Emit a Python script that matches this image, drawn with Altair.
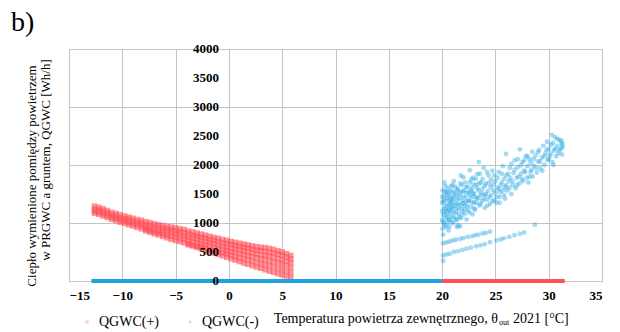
import altair as alt
import pandas as pd

SERIF = "Liberation Serif"

# ---- tick values ----
x_ticks = [-15, -10, -5, 0, 5, 10, 15, 20, 25, 30, 35]
y_ticks = [0, 500, 1000, 1500, 2000, 2500, 3000, 3500, 4000]

# ---- QGWC(+) : heating-season band (temperature column -> heat values) ----
red_temp = [-12.6, -12.2, -11.8, -11.4, -11.0, -10.6, -10.2, -9.8, -9.4, -9.0, -8.6, -8.2,
            -7.8, -7.4, -7.0, -6.6, -6.2, -5.8, -5.4, -5.0, -4.6, -4.2, -3.8, -3.4, -3.0,
            -2.6, -2.2, -1.8, -1.4, -1.0, -0.6, -0.2, 0.2, 0.6, 1.0, 1.4, 1.8, 2.2, 2.6,
            3.0, 3.4, 3.8, 4.2, 4.6, 5.0, 5.4, 5.8]
red_q = [
    [1290, 1240, 1200, 1170], [1270, 1225, 1185, 1150], [1245, 1200, 1160, 1120],
    [1215, 1175, 1135, 1095], [1180, 1140, 1100, 1065], [1165, 1120, 1080, 1045],
    [1140, 1095, 1055, 1015], [1120, 1075, 1030, 995], [1100, 1060, 1010, 970],
    [1080, 1035, 990, 950], [1060, 1015, 970, 925], [1045, 995, 950, 900],
    [1020, 975, 930, 890, 865], [1005, 960, 910, 870, 840], [985, 940, 890, 850, 815],
    [970, 925, 875, 830, 795], [955, 910, 860, 810, 770], [940, 895, 845, 795, 745],
    [930, 880, 830, 775, 720], [915, 865, 810, 755, 700], [900, 850, 795, 740, 680],
    [885, 830, 775, 720, 660], [860, 810, 755, 700, 640, 625], [845, 790, 735, 680, 620, 605],
    [825, 770, 715, 660, 600, 580], [805, 750, 700, 640, 585, 555], [790, 735, 680, 620, 565, 530],
    [770, 715, 660, 600, 545, 505], [750, 700, 640, 580, 525, 485], [735, 680, 620, 560, 505, 460],
    [715, 660, 600, 545, 485, 435], [700, 645, 585, 525, 465, 410], [680, 625, 565, 505, 445, 385],
    [665, 610, 550, 490, 425, 360], [650, 595, 535, 470, 405, 335], [635, 580, 520, 455, 385, 310],
    [620, 565, 500, 435, 365, 290], [605, 550, 485, 420, 345, 265], [590, 530, 465, 400, 320, 240],
    [580, 520, 450, 380, 300, 220], [575, 510, 440, 365, 280, 195], [560, 495, 425, 345, 260, 170],
    [545, 480, 405, 330, 240, 150], [520, 460, 385, 310, 215, 125], [500, 440, 365, 290, 195, 105],
    [470, 410, 340, 265, 170, 85], [440, 380, 310, 230, 145, 60],
]

# ---- QGWC(-) : cooling-season cloud (temperature, heat) ----
blue_cloud = [
    (20.05, 900), (20.1, 1020), (20.1, 1130), (20.15, 1250), (20.1, 1380), (20.2, 1480),
    (20.05, 1560), (20.3, 1640), (20.25, 960), (20.35, 1080), (20.4, 1200), (20.3, 1320),
    (20.45, 1430), (20.4, 1530), (20.5, 1010), (20.55, 1150), (20.5, 1290), (20.6, 1380),
    (20.55, 1600), (20.2, 1700),
    (20.7, 940), (20.7, 1060), (20.75, 1230), (20.8, 1340), (20.85, 1470), (20.8, 1560),
    (20.9, 1110), (20.95, 1280), (21.0, 1420), (21.0, 1650), (21.05, 1000), (21.1, 1180),
    (21.15, 1350), (21.2, 1520), (21.1, 1720),
    (21.3, 1070), (21.35, 1250), (21.4, 1400), (21.45, 1590), (21.5, 960), (21.55, 1150),
    (21.6, 1320), (21.65, 1480), (21.7, 1680), (21.8, 1090), (21.85, 1240), (21.9, 1380),
    (21.95, 1540), (22.0, 1790), (21.75, 1820),
    (22.1, 1150), (22.15, 1300), (22.2, 1450), (22.25, 1620), (22.3, 1060), (22.4, 1220),
    (22.45, 1380), (22.5, 1530), (22.6, 1700), (22.6, 1910), (22.7, 1280), (22.75, 1440),
    (22.8, 1600), (22.85, 1150), (22.9, 1780), (23.0, 1350), (23.0, 1500),
    (23.1, 1230), (23.2, 1660), (23.25, 1420), (23.3, 1840), (23.4, 1560), (23.45, 2050),
    (23.5, 1300), (23.6, 1480), (23.65, 1700), (23.75, 1380), (23.8, 1590), (23.9, 1950),
    (24.0, 1260), (24.0, 1480),
    (24.1, 1680), (24.2, 1400), (24.3, 1550), (24.35, 1820), (24.5, 1330), (24.55, 1620),
    (24.6, 1480), (24.7, 1900), (24.8, 1560), (24.9, 1390), (25.0, 1720),
    (25.1, 1450), (25.2, 1610), (25.3, 1880), (25.4, 1350), (25.45, 1530), (25.6, 1700),
    (25.7, 1980), (25.8, 1480), (25.9, 1620), (26.0, 1820), (26.0, 2190),
    (26.1, 1560), (26.25, 1720), (26.35, 1950), (26.5, 1500), (26.6, 1650), (26.7, 1860),
    (26.8, 2080), (26.9, 1600), (27.0, 1780),
    (27.1, 1960), (27.25, 1680), (27.3, 2270), (27.4, 1850), (27.55, 2050), (27.6, 1720),
    (27.7, 1900), (27.85, 2150), (27.95, 1780), (28.0, 1980),
    (28.1, 1700), (28.2, 2100), (28.3, 1880), (28.45, 2230), (28.5, 1800), (28.6, 1990),
    (28.75, 2160), (28.9, 1870), (29.0, 2060),
    (29.1, 2260), (29.2, 1940), (29.35, 2130), (29.5, 2330), (29.6, 2000), (29.7, 2200),
    (29.85, 2400), (29.9, 2080), (30.0, 2280),
    (30.1, 2150), (30.2, 2350), (30.3, 2520), (30.35, 2050), (30.5, 2250), (30.6, 2480),
    (30.7, 2150), (30.8, 2330), (30.9, 2200), (31.0, 2430), (31.1, 2280), (31.2, 2370),
    (31.25, 2180), (31.3, 2300), (30.45, 2000),
]
blue_cloud_2 = [
    (20.0, 1050), (20.0, 1200), (20.0, 1350), (20.0, 1450), (20.15, 990), (20.2, 1170),
    (20.25, 1400), (20.3, 1550), (20.35, 1240), (20.4, 930), (20.45, 1110), (20.5, 1480),
    (20.6, 1230), (20.65, 1050), (20.65, 1520), (20.7, 1310), (20.75, 1420), (20.8, 1180),
    (20.85, 1640), (20.9, 1380), (20.95, 1020), (21.0, 1250), (21.05, 1540), (21.1, 1100),
    (21.15, 1450), (21.2, 1300), (21.25, 1620), (21.3, 1180), (21.35, 1480), (21.4, 1050),
    (21.45, 1330), (21.5, 1560), (21.55, 1240), (21.6, 1420), (21.65, 1100), (21.7, 1530),
    (21.8, 1300), (21.85, 1650), (21.9, 1180), (21.95, 1450), (22.0, 1340), (22.05, 1560),
    (22.1, 1230), (22.15, 1700), (22.2, 1370), (22.3, 1520), (22.35, 1290), (22.4, 1620),
    (22.5, 1380), (22.55, 1180), (22.6, 1480), (22.7, 1560), (22.75, 1750), (22.8, 1360),
    (22.9, 1520), (22.95, 1660), (23.0, 1250), (23.1, 1450), (23.15, 1760), (23.2, 1350),
    (23.3, 1600), (23.4, 1430), (23.5, 1680), (23.55, 1850), (23.6, 1330), (23.7, 1520),
    (23.8, 1760), (23.9, 1420), (24.0, 1640), (24.1, 1500), (24.2, 1880), (24.25, 1300),
    (24.4, 1690), (24.45, 1450), (24.6, 1750), (24.7, 1380), (24.8, 1660), (24.9, 1820),
    (25.0, 1520), (25.1, 1350), (25.2, 1780), (25.3, 1580), (25.4, 1450), (25.5, 1650),
    (25.6, 1850), (25.7, 1560), (25.8, 1760), (25.9, 1420), (26.0, 1650), (26.2, 1850),
    (26.3, 1600), (26.4, 1780), (26.5, 2020), (26.6, 1720), (26.8, 1920), (27.0, 1650),
    (27.1, 2100), (27.2, 1800), (27.4, 2000), (27.5, 1760), (27.7, 2080), (27.8, 1880),
    (28.0, 2150), (28.2, 1800), (28.3, 2040), (28.4, 1920), (28.6, 2100), (28.8, 1950),
    (29.0, 2220), (29.2, 2060), (29.4, 1900), (29.6, 2150), (29.8, 2260), (30.0, 2100),
    (30.2, 2200), (30.4, 2380), (30.6, 2280), (30.8, 2450), (31.0, 2250), (31.2, 2420),
    (31.3, 2350),
]
blue_line_a = [(20.1, 650), (20.4, 665), (20.7, 680), (21.0, 700), (21.3, 710), (21.7, 725),
               (22.0, 740), (22.4, 760), (22.8, 770), (23.1, 790), (23.4, 800), (23.8, 820),
               (24.1, 830), (24.5, 850)]
blue_line_b = [(20.1, 440), (20.1, 350), (20.4, 455), (20.7, 470), (21.1, 500), (21.5, 515),
               (21.9, 535), (22.3, 555), (22.7, 575), (23.2, 600), (23.6, 615), (24.0, 635),
               (24.5, 670), (25.1, 700), (25.5, 715), (25.8, 735), (26.3, 760), (26.8, 790),
               (27.3, 815), (27.7, 835), (28.7, 970)]
blue_stray = [(20.1, 800), (21.4, 930), (21.7, 940), (20.6, 870)]

# ---- zero-valued hours (temperature range at Q = 0) ----
zero_blue_range = [-12.9, 20.0]
zero_red_range = [20.0, 31.5]

series_names = ["QGWC(+)", "QGWC(-)"]
series_colors = ["#ff4f57", "#1ca3e0"]

# ---- build tables ----
red_rows = []
for t, qs in zip(red_temp, red_q):
    for q in qs:
        red_rows.append({"t": t, "q": q, "s": series_names[0]})
red_df = pd.DataFrame(red_rows)
blue_df = pd.DataFrame(
    [{"t": t, "q": q, "s": series_names[1]}
     for t, q in blue_cloud + blue_cloud_2 + blue_line_a + blue_line_b + blue_stray])

zeros = pd.DataFrame([
    {"t0": zero_blue_range[0], "t1": zero_blue_range[1], "q": 0, "s": series_names[1]},
    {"t0": zero_red_range[0], "t1": zero_red_range[1], "q": 0, "s": series_names[0]},
])
yt = pd.DataFrame({"v": y_ticks, "x0": [0] * len(y_ticks)})

W, H = 533, 232
xscale = alt.Scale(domain=[-15, 35], nice=False)
yscale = alt.Scale(domain=[0, 4000], nice=False)
cscale = alt.Scale(domain=series_names, range=series_colors)
sscale = alt.Scale(domain=series_names, range=["square", "circle"])

grid_color = "#c4c4c4"

leg = alt.Legend(orient="none", legendX=11, legendY=266, direction="horizontal", title=None,
                 padding=0, labelFont=SERIF, labelFontSize=14, labelColor="black",
                 symbolSize=10, symbolOpacity=0.3, symbolStrokeWidth=0, columnPadding=24,
                 labelOffset=5)

x_enc = alt.X("t:Q", scale=xscale,
              axis=alt.Axis(values=x_ticks, title=None, grid=True, gridColor=grid_color,
                            domain=False, ticks=False, labelFont=SERIF, labelFontSize=13,
                            labelFontWeight="bold", labelColor="black", labelPadding=8))
y_enc = alt.Y("q:Q", scale=yscale,
              axis=alt.Axis(values=y_ticks, title=None, grid=True, gridColor=grid_color,
                            domain=False, ticks=False, labels=False))

red_pts = alt.Chart(red_df).mark_point(filled=True, strokeWidth=0, size=32, opacity=0.6).encode(
    x=x_enc, y=y_enc,
    color=alt.Color("s:N", scale=cscale, legend=leg),
    shape=alt.Shape("s:N", scale=sscale, legend=leg),
)
blue_pts = alt.Chart(blue_df).mark_point(filled=True, strokeWidth=0, size=24, opacity=0.4).encode(
    x="t:Q", y="q:Q",
    color=alt.Color("s:N", scale=cscale, legend=leg),
    shape=alt.Shape("s:N", scale=sscale, legend=leg),
)

zero_rules = alt.Chart(zeros).mark_rule(strokeWidth=4).encode(
    x=alt.X("t0:Q", scale=xscale),
    x2="t1:Q",
    y=alt.Y("q:Q", scale=yscale),
    color=alt.Color("s:N", scale=cscale, legend=leg),
)

ylabels = alt.Chart(yt).mark_text(font=SERIF, fontSize=13, fontWeight="bold",
                                  align="right", baseline="middle", dx=-10,
                                  color="black").encode(
    x=alt.X("x0:Q", scale=xscale),
    y=alt.Y("v:Q", scale=yscale),
    text=alt.Text("v:Q"),
)

one = pd.DataFrame({"a": [0]})


def label(text, x, y, size, font=SERIF, **kw):
    return alt.Chart(one).mark_text(font=font, fontSize=size, color="black", **kw).encode(
        x=alt.value(x), y=alt.value(y), text=alt.value(text))


title_b = label("b)", -58, -18, 28, align="left", baseline="alphabetic")
ytitle1 = label("Ciepło wymienione pomiędzy powietrzem", -37, 127, 13, angle=270,
                align="center", baseline="middle")
ytitle2 = label("w PRGWC a gruntem, QGWC [Wh/h]", -23, 111, 13, angle=270,
                align="center", baseline="middle")
xtitle1 = label("Temperatura powietrza zewnętrznego, θ", 429, 274, 14,
                align="right", baseline="alphabetic")
xtitle2 = label("out", 430, 276, 8, align="left", baseline="alphabetic")
xtitle3 = label("2021 [°C]", 444, 274, 14, align="left", baseline="alphabetic")

chart = alt.layer(
    red_pts, blue_pts, zero_rules, ylabels, title_b, ytitle1, ytitle2, xtitle1, xtitle2, xtitle3
).properties(
    width=W, height=H,
    autosize=alt.AutoSizeParams(type="none"),
    padding={"left": 69, "top": 49, "right": 18, "bottom": 51},
).configure_view(stroke=grid_color).configure(background="white")

chart.save("out.html", embed_options={"renderer": "svg", "actions": False})
